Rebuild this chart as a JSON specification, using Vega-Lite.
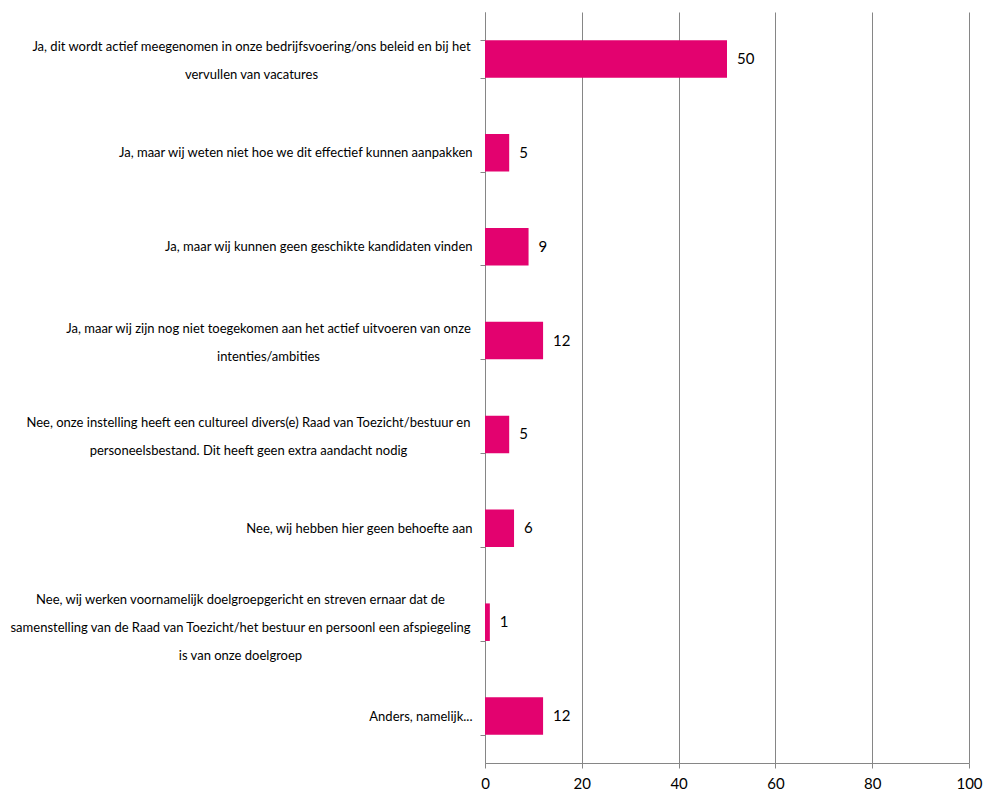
{
  "$schema": "https://vega.github.io/schema/vega-lite/v6.json",
  "width": 484,
  "height": 751,
  "autosize": "none",
  "padding": {"left": 485, "top": 12, "right": 14, "bottom": 35},
  "background": "white",
  "config": {"view": {"stroke": null}, "font": "Lato"},
  "data": {"values": [
    {"category": "Ja, dit wordt actief meegenomen in onze bedrijfsvoering/ons beleid en bij het|vervullen van vacatures", "value": 50},
    {"category": "Ja, maar wij weten niet hoe we dit effectief kunnen aanpakken", "value": 5},
    {"category": "Ja, maar wij kunnen geen geschikte kandidaten vinden", "value": 9},
    {"category": "Ja, maar wij zijn nog niet toegekomen aan het actief uitvoeren van onze|intenties/ambities", "value": 12},
    {"category": "Nee, onze instelling heeft een cultureel divers(e) Raad van Toezicht/bestuur en|personeelsbestand. Dit heeft geen extra aandacht nodig", "value": 5},
    {"category": "Nee, wij hebben hier geen behoefte aan", "value": 6},
    {"category": "Nee, wij werken voornamelijk doelgroepgericht en streven ernaar dat de|samenstelling van de Raad van Toezicht/het bestuur en persoonl een afspiegeling|is van onze doelgroep", "value": 1},
    {"category": "Anders, namelijk...", "value": 12}
  ]},
  "encoding": {
    "y": {
      "field": "category",
      "type": "nominal",
      "sort": null,
      "scale": {"paddingInner": 0.6, "paddingOuter": 0.3},
      "axis": {
        "title": null,
        "labelExpr": "split(datum.label, '|')",
        "labelLimit": 0,
        "labelFontSize": 13,
        "labelColor": "#000000",
        "labelLineHeight": 28,
        "labelAlign": {"condition": {"test": "test(/vacatures|intenties|personeelsbestand|doelgroep/, datum.value)", "value": "center"}, "value": "right"},
        "labelPadding": {"condition": [
          {"test": "test(/vacatures/, datum.value)", "value": 229},
          {"test": "test(/intenties/, datum.value)", "value": 212},
          {"test": "test(/personeelsbestand/, datum.value)", "value": 232},
          {"test": "test(/doelgroep/, datum.value)", "value": 240}
        ], "value": 8},
        "labelOffset": {"condition": [
          {"test": "test(/doelgroep/, datum.value)", "value": -23},
          {"test": "test(/vacatures|intenties|personeelsbestand/, datum.value)", "value": -12}
        ], "value": 0},
        "tickBand": "extent",
        "tickSize": 5,
        "tickColor": "#868686",
        "domainColor": "#868686",
        "grid": false
      }
    },
    "x": {
      "field": "value",
      "type": "quantitative",
      "scale": {"domain": [0, 100]},
      "axis": {
        "title": null,
        "values": [0, 20, 40, 60, 80, 100],
        "grid": true,
        "gridColor": "#868686",
        "tickColor": "#868686",
        "domainColor": "#868686",
        "tickSize": 5,
        "labelFontSize": 15,
        "labelColor": "#000000",
        "labelPadding": 8,
        "labelFlush": false
      }
    }
  },
  "layer": [
    {"mark": {"type": "bar", "color": "#E3026F"}},
    {
      "mark": {"type": "text", "align": "left", "dx": 10, "fontSize": 15, "color": "#000000"},
      "encoding": {"text": {"field": "value", "type": "quantitative"}}
    }
  ]
}
